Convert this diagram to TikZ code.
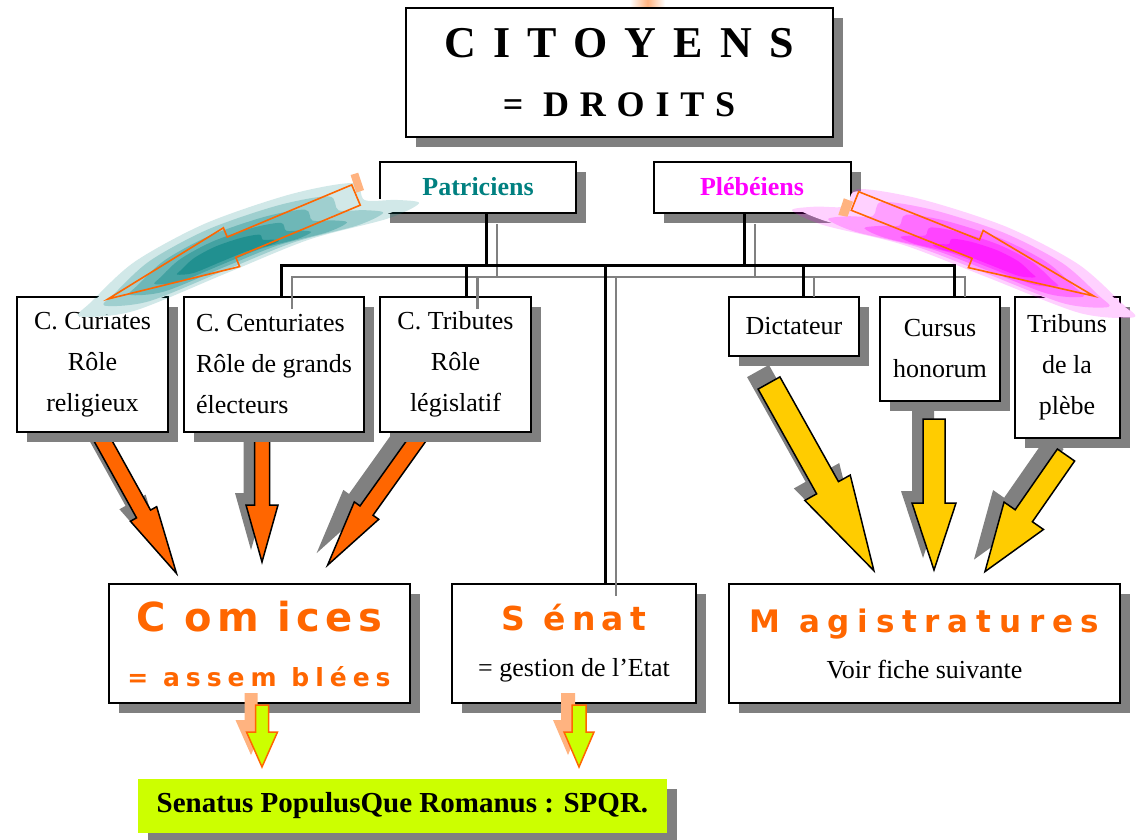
\documentclass[tikz,border=0pt]{standalone}
\usepackage{fontspec}
\setmainfont{Liberation Serif}
\newfontfamily\titlefont{Liberation Serif}
\newfontfamily\orangefont{DejaVu Sans}
\usetikzlibrary{shadows,calc}

\definecolor{shadegray}{HTML}{808080}
\definecolor{romorange}{HTML}{FF6600}
\definecolor{romyellow}{HTML}{FFCC00}
\definecolor{romlime}{HTML}{CCFF00}
\definecolor{peach}{HTML}{FFB380}
\definecolor{patteal}{HTML}{008080}
\definecolor{plebmag}{HTML}{FF00FF}

\pgfdeclarelayer{back}
\pgfsetlayers{back,main}

\tikzset{
  box/.style={draw, line width=2pt, fill=white, align=center, inner sep=0pt,
    font=\fontsize{26}{41}\selectfont,
    drop shadow={shadow xshift=10pt, shadow yshift=-10pt, fill=shadegray, opacity=1}},
  link/.style={line width=3pt, line cap=rect},
  linkshade/.style={line width=2.5pt, line cap=rect, draw=shadegray,
    transform canvas={shift={(11,12)}}},
  glowpath/.style={insert path={plot[smooth cycle] coordinates {(-2,-12) (60,-26)
    (150,-32) (230,-24) (285,-4) (302,5) (250,21) (150,22) (60,23) (-20,34)
    (-55,32) (-35,20) (-6,8)}}}
}

% fill style, shadow colour, tail, angle, length, shaft half width, head half width, head length
\newcommand{\bigarrow}[8]{%
  \pgfmathsetmacro\headbase{#5-#8}%
  \begin{scope}[shift={#3}, shift={(-11,-12)}, rotate=#4]
    \fill[#2] (0,-#6) -- (\headbase,-#6) -- (\headbase,-#7) -- (#5,0)
      -- (\headbase,#7) -- (\headbase,#6) -- (0,#6) -- cycle;
  \end{scope}
  \begin{scope}[shift={#3}, rotate=#4]
    \filldraw[#1] (0,-#6) -- (\headbase,-#6) -- (\headbase,-#7) -- (#5,0)
      -- (\headbase,#7) -- (\headbase,#6) -- (0,#6) -- cycle;
  \end{scope}}

% glow colour, tail, angle, flip, length, shaft half width, head half width, head start
\newcommand{\glowarrow}[8]{%
  \begin{scope}[shift={#2}, rotate=#3, yscale=#4]
    \fill[white, shift={(0,4)}, yscale=.85, shift={(0,-4)}, glowpath];
    \foreach \gs/\gop in {1/.18,.82/.24,.64/.3,.46/.38,.3/.5}
      \fill[#1, opacity=\gop, shift={(150,4)}, scale=\gs, shift={(-150,-4)}, glowpath];
    \draw[romorange, line width=1.6pt] (0,-#6) -- (#8,-#6) -- (#8,-#7) -- (#5,0)
      -- (#8,#7) -- (#8,#6) -- (0,#6) -- cycle;
  \end{scope}}

\begin{document}
\begin{tikzpicture}[x=1pt, y=-1pt]
\useasboundingbox (0,0) rectangle (1138,839);

\shade[left color=white, right color=white, middle color=peach] (630,0) rectangle (665,6);

% top
\node[box, minimum width=427, minimum height=129, font=\titlefont\bfseries\fontsize{36}{59}\selectfont]
  (cit) at (619,72.5)
  {{\fontsize{44}{44}\selectfont\addfontfeature{LetterSpace=39}CITOYENS}\\
   {\addfontfeature{LetterSpace=30}= DROITS}};
\node[box, minimum width=196, minimum height=51, font=\bfseries\fontsize{26}{30}\selectfont,
  text=patteal] (pat) at (478,187) {Patriciens};
\node[box, minimum width=197, minimum height=51, font=\bfseries\fontsize{26}{30}\selectfont,
  text=plebmag] (pleb) at (752,187) {Plébéiens};

% middle row
\node[box, minimum width=151, minimum height=135] (cur) at (92.5,364.5)
  {C. Curiates\\Rôle\\religieux};
\node[box, minimum width=180, minimum height=135, align=left] (cent) at (274,364.5)
  {C. Centuriates\\Rôle de grands\\électeurs};
\node[box, minimum width=151, minimum height=135] (trib) at (455.5,364.5)
  {C. Tributes\\Rôle\\législatif};
\node[box, minimum width=130, minimum height=59] (dict) at (794,326.5) {Dictateur};
\node[box, minimum width=120, minimum height=104] (curs) at (940,349) {Cursus\\honorum};
\node[box, minimum width=105, minimum height=141] (tribp) at (1067,367.5)
  {Tribuns\\de la\\plèbe};

% bottom row
\node[box, minimum width=301, minimum height=119, text=romorange,
  font=\orangefont\bfseries\fontsize{25}{55}\selectfont] (com) at (259,643.5)
  {{\fontsize{40}{40}\selectfont\addfontfeature{LetterSpace=13}C om ices}\\
   {\addfontfeature{LetterSpace=24}= assem blées}};
\node[box, minimum width=244, minimum height=119, font=\fontsize{26}{46}\selectfont]
  (sen) at (574,643.5)
  {{\orangefont\bfseries\color{romorange}\fontsize{33}{33}\selectfont\addfontfeature{LetterSpace=19}S énat}\\
   = gestion de l’Etat};
\node[box, minimum width=391, minimum height=119, font=\fontsize{26}{46}\selectfont]
  (mag) at (924.5,643.5)
  {{\orangefont\bfseries\color{romorange}\fontsize{31}{31}\selectfont\addfontfeature{LetterSpace=25}M agistratures}\\
   Voir fiche suivante};
\node[box, draw=none, fill=romlime, minimum width=529, minimum height=54,
  font=\bfseries\fontsize{29}{30}\selectfont] (spqr) at (402.5,806)
  {Senatus PopulusQue Romanus : SPQR.};

% fat arrows under the boxes
\begin{pgfonlayer}{back}
\bigarrow{fill=romorange, draw=black, line width=1.5pt}{shadegray}{(97,430)}{-61}{164}{8}{15}{68}
\bigarrow{fill=romorange, draw=black, line width=1.5pt}{shadegray}{(262,430)}{-90}{132}{7.5}{16}{57}
\bigarrow{fill=romorange, draw=black, line width=1.5pt}{shadegray}{(424,430)}{-125.5}{166}{8}{15}{67}
\bigarrow{fill=romyellow, draw=black, line width=1.5pt}{shadegray}{(769,383)}{-60.8}{215}{12.5}{26}{95}
\bigarrow{fill=romyellow, draw=black, line width=1.5pt}{shadegray}{(934,419)}{-90}{151}{11}{22}{67}
\bigarrow{fill=romyellow, draw=black, line width=1.5pt}{shadegray}{(1066,455)}{-124.8}{142}{10.5}{24}{68}
\end{pgfonlayer}

% links
\coordinate (bus) at (0,265);
\foreach \ls/\cut in {linkshade/12pt,link/0pt}{
  \draw[\ls] ([xshift=8]pat.south) -- ([xshift=8]pat.south |- bus);
  \draw[\ls] ([xshift=-8]pleb.south) -- ([xshift=-8]pleb.south |- bus);
  \draw[\ls] ([xshift=7]cent.north) -- ([xshift=7]cent.north |- bus)
    -- ([xshift=14]curs.north |- bus);
  \draw[\ls] ([xshift=11]trib.north) -- ([xshift=11]trib.north |- bus);
  \draw[\ls] ([xshift=31]sen.north) -- ([xshift=31]sen.north |- bus);
  \draw[\ls, shorten >=\cut] ([xshift=9]dict.north |- bus) -- ([xshift=9]dict.north);
  \draw[\ls, shorten >=\cut] ([xshift=14]curs.north |- bus) -- ([xshift=14]curs.north);
}

% glowing arrows
\glowarrow{patteal}{(356,195)}{202.75}{-1}{269}{11}{21}{135}
\glowarrow{plebmag}{(855,201)}{-21.7}{1}{257}{10}{20}{130}
\fill[peach] (350.6,175) -- (358.2,172.7) -- (364,190) -- (356.3,192.7) -- cycle;
\fill[peach] (843.8,198.3) -- (853,201.7) -- (847.5,216.7) -- (838.3,215) -- cycle;

% small arrows to SPQR
\bigarrow{fill=romlime, draw=romorange, line width=1.5pt}{peach}{(262,705)}{-90}{62}{6.5}{15.5}{35}
\bigarrow{fill=romlime, draw=romorange, line width=1.5pt}{peach}{(579,705)}{-90}{62}{7}{15}{35}
\end{tikzpicture}
\end{document}
